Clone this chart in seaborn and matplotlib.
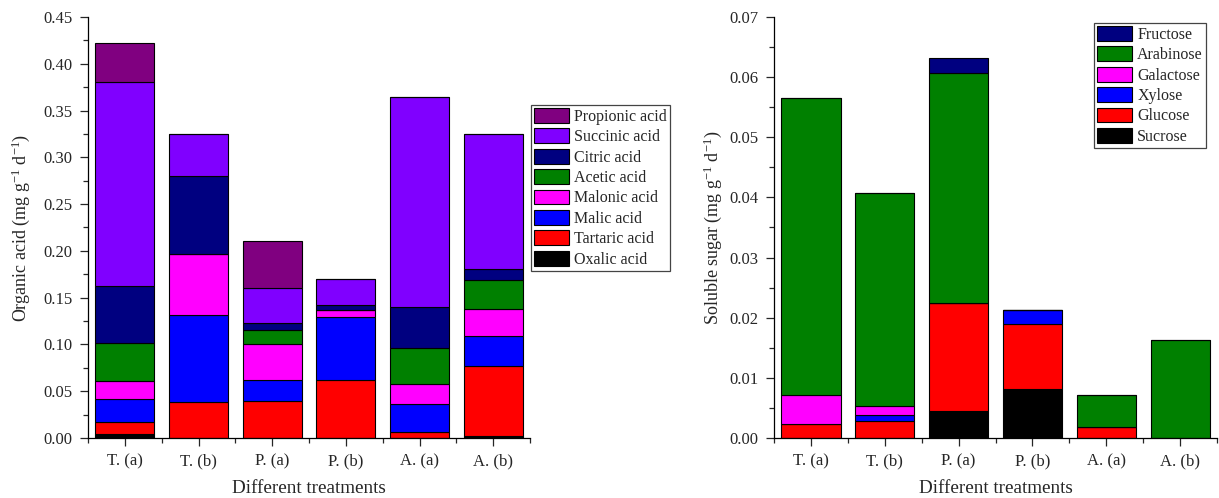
# coding:utf-8
# Organic acid and soluble sugar stacked bars

import numpy as np
import pandas as pd
import matplotlib
matplotlib.use("Agg")
import matplotlib.pyplot as plt
from matplotlib.patches import Patch
from matplotlib.ticker import MultipleLocator, FixedLocator, FormatStrFormatter
import seaborn as sns

sns.set_style("ticks")
plt.rcParams['font.family'] = ['Liberation Serif', 'DejaVu Serif']
plt.rcParams['mathtext.fontset'] = 'custom'
plt.rcParams['mathtext.rm'] = 'Liberation Serif'
plt.rcParams['mathtext.default'] = 'regular'

treatments = ["T. (a)", "T. (b)", "P. (a)", "P. (b)", "A. (a)", "A. (b)"]

# organic acids, bottom to top
acid_names = ["Oxalic acid", "Tartaric acid", "Malic acid", "Malonic acid",
              "Acetic acid", "Citric acid", "Succinic acid", "Propionic acid"]
oxalic = [0.0045, 0.0, 0.0, 0.0, 0.0, 0.0025]
tartaric = [0.0130, 0.0385, 0.0390, 0.0623, 0.0064, 0.0748]
malic = [0.0240, 0.0930, 0.0230, 0.0670, 0.0300, 0.0320]
malonic = [0.0195, 0.0650, 0.0385, 0.0070, 0.0210, 0.0287]
acetic = [0.0410, 0.0, 0.0150, 0.0, 0.0390, 0.0310]
citric = [0.0605, 0.0837, 0.0070, 0.0055, 0.0440, 0.0116]
succinic = [0.2180, 0.0450, 0.0375, 0.0280, 0.2235, 0.1444]
propionic = [0.0413, 0.0, 0.0500, 0.0, 0.0, 0.0]
acid_colors = ["#000000", "#FF0000", "#0000FF", "#FF00FF",
               "#008000", "#000080", "#8000FF", "#800080"]

# soluble sugars, bottom to top
sugar_names = ["Sucrose", "Glucose", "Xylose", "Galactose", "Arabinose", "Fructose"]
sucrose = [0.0, 0.0, 0.0045, 0.0082, 0.0, 0.0]
glucose = [0.0024, 0.0028, 0.0180, 0.0107, 0.0019, 0.0]
xylose = [0.0, 0.0010, 0.0, 0.0023, 0.0, 0.0]
galactose = [0.0047, 0.0015, 0.0, 0.0, 0.0, 0.0]
arabinose = [0.0495, 0.0354, 0.0382, 0.0, 0.0052, 0.0163]
fructose = [0.0, 0.0, 0.0024, 0.0, 0.0, 0.0]
sugar_colors = ["#000000", "#FF0000", "#0000FF", "#FF00FF", "#008000", "#000080"]


# 堆叠柱状图
def stacked(ax, names, series, colors):
    df = pd.DataFrame(dict(zip(names, series)), index=treatments)
    bottom = np.zeros(len(treatments))
    for name, color in zip(names, colors):
        sns.barplot(x=df.index, y=df[name].values, ax=ax, color=color,
                    width=0.8, bottom=bottom, edgecolor="black",
                    linewidth=0.8, saturation=1)
        bottom = bottom + df[name].values
    handles = [Patch(facecolor=c, edgecolor="black", linewidth=0.8, label=n)
               for n, c in zip(names, colors)][::-1]
    return handles


def style_axes(ax, ymax, major, ylabel, ylab_x):
    ax.set_xlim(-0.5, 5.5)
    ax.set_ylim(0, ymax)
    ax.yaxis.set_major_locator(MultipleLocator(major))
    ax.yaxis.set_minor_locator(MultipleLocator(major / 2))
    ax.yaxis.set_major_formatter(FormatStrFormatter("%.2f"))
    ax.xaxis.set_minor_locator(FixedLocator(np.arange(-0.5, 6, 1)))
    ax.tick_params(which="major", length=6, width=0.9, labelsize=12, pad=5,
                   direction="out")
    ax.tick_params(which="minor", length=3.5, width=0.9, direction="out")
    ax.set_xlabel("Different treatments", fontsize=13.8)
    ax.set_ylabel(ylabel, fontsize=13)
    ax.xaxis.set_label_coords(0.5, -0.10)
    ax.yaxis.set_label_coords(ylab_x, 0.5)
    for s in ["top", "right"]:
        ax.spines[s].set_visible(False)
    for s in ["left", "bottom"]:
        ax.spines[s].set_linewidth(0.9)
        ax.spines[s].set_color("black")


def add_legend(ax, handles, loc, anchor):
    leg = ax.legend(handles=handles, loc=loc, bbox_to_anchor=anchor,
                    borderaxespad=0, fontsize=11.5, fancybox=False,
                    handlelength=2.2, handleheight=1.05, labelspacing=0.22,
                    handletextpad=0.3, borderpad=0.2, framealpha=1)
    leg.get_frame().set_edgecolor("#444444")
    leg.get_frame().set_linewidth(0.9)
    return leg


fig = plt.figure(figsize=(12.19, 4.98), dpi=100)
ax1 = fig.add_axes([0.0722, 0.1205, 0.3626, 0.8455])
ax2 = fig.add_axes([0.635, 0.1205, 0.3634, 0.8455])

h1 = stacked(ax1, acid_names,
             [oxalic, tartaric, malic, malonic, acetic, citric, succinic, propionic],
             acid_colors)
style_axes(ax1, 0.45, 0.05, "Organic acid (mg g$^{-1}$ d$^{-1}$)", -0.126)
add_legend(ax1, h1, "upper left", (1.002, 0.791))

h2 = stacked(ax2, sugar_names,
             [sucrose, glucose, xylose, galactose, arabinose, fructose],
             sugar_colors)
style_axes(ax2, 0.07, 0.01, "Soluble sugar (mg g$^{-1}$ d$^{-1}$)", -0.113)
add_legend(ax2, h2, "upper right", (0.975, 0.986))

fig.savefig("out.png", dpi=100)
